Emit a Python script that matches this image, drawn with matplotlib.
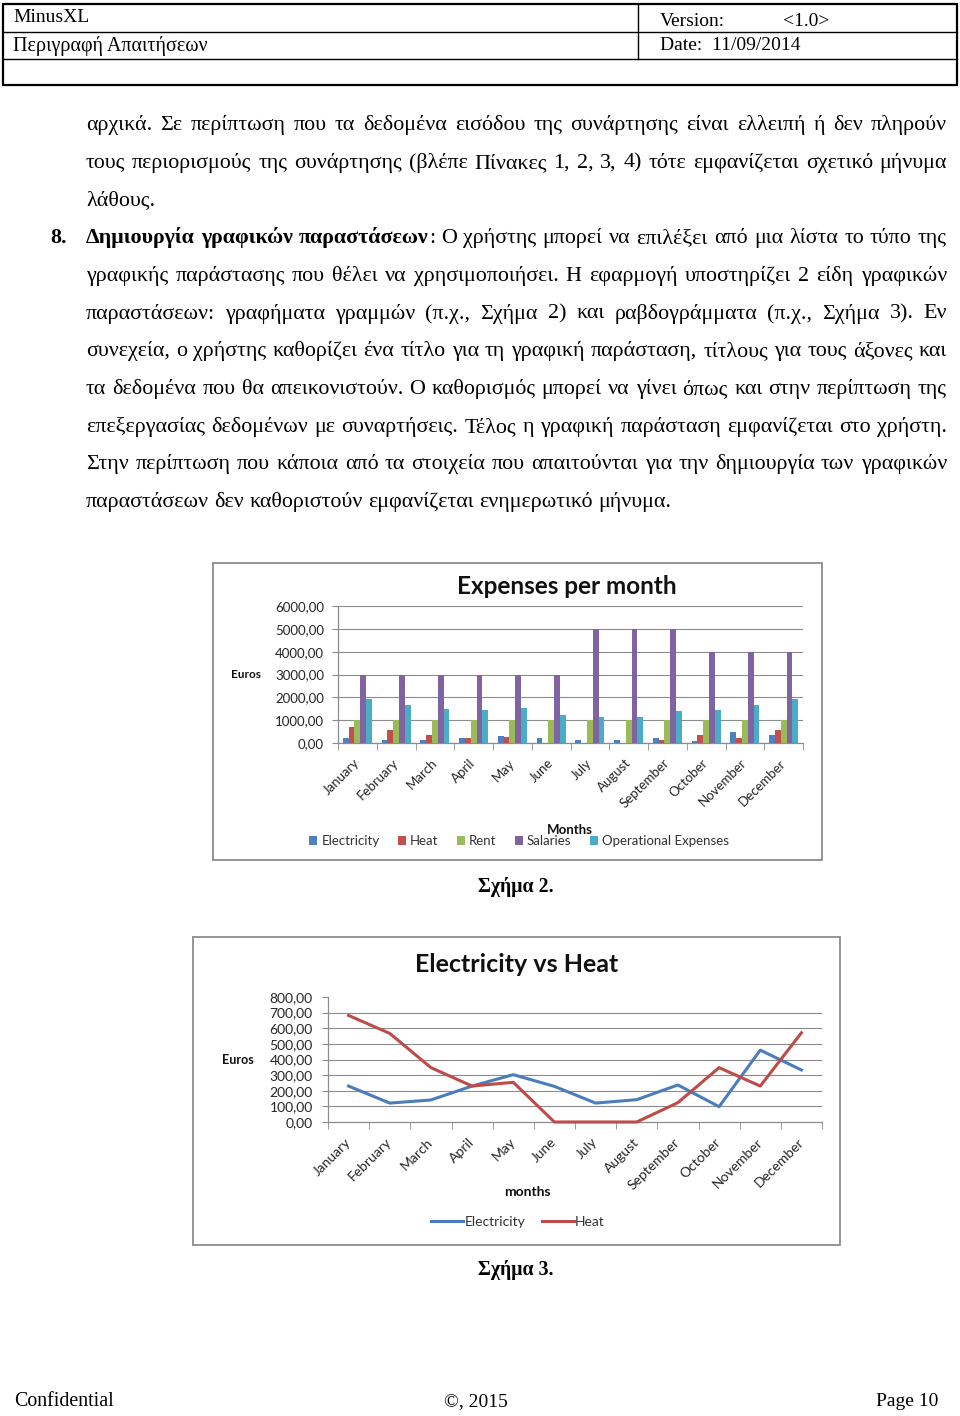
import numpy as np
import matplotlib
matplotlib.use("Agg")
import matplotlib.pyplot as plt
from matplotlib.patches import Rectangle, Patch
from matplotlib.lines import Line2D

# ---------- Data ----------
months = ["January", "February", "March", "April", "May", "June",
          "July", "August", "September", "October", "November", "December"]
electricity = [230, 121, 141, 230, 303, 228, 121, 143, 237, 98, 460, 333]
heat = [682, 567, 348, 230, 254, 0, 0, 0, 124, 348, 230, 571]
rent = [1000, 1000, 1000, 1000, 1000, 1000, 1000, 1000, 1000, 1000, 1000, 1000]
salaries = [3000, 3000, 3000, 3000, 3000, 3000, 5000, 5000, 5000, 4000, 4000, 4000]
operational = [1942, 1664, 1474, 1460, 1547, 1226, 1139, 1139, 1401, 1460, 1679, 1912]

bar_ticks = [0, 1000, 2000, 3000, 4000, 5000, 6000]
line_ticks = [0, 100, 200, 300, 400, 500, 600, 700, 800]

bar_series = ["Electricity", "Heat", "Rent", "Salaries", "Operational Expenses"]
bar_colors = ["#4F81BD", "#C0504D", "#9BBB59", "#8064A2", "#4BACC6"]
line_colors = ["#4A7EBB", "#BE4B48"]

body = [
    ([("αρχικά. Σε περίπτωση που τα δεδομένα εισόδου της συνάρτησης είναι ελλειπή ή δεν πληρούν", "normal")], True),
    ([("τους περιορισμούς της συνάρτησης (βλέπε Πίνακες 1, 2, 3, 4) τότε εμφανίζεται σχετικό μήνυμα", "normal")], True),
    ([("λάθους.", "normal")], False),
    ([("Δημιουργία γραφικών παραστάσεων", "bold"), (": Ο χρήστης μπορεί να επιλέξει από μια λίστα το τύπο της", "normal")], True),
    ([("γραφικής παράστασης που θέλει να χρησιμοποιήσει. Η εφαρμογή υποστηρίζει 2 είδη γραφικών", "normal")], True),
    ([("παραστάσεων: γραφήματα γραμμών (π.χ., Σχήμα 2) και ραβδογράμματα (π.χ., Σχήμα 3). Εν", "normal")], True),
    ([("συνεχεία, ο χρήστης καθορίζει ένα τίτλο για τη γραφική παράσταση, τίτλους για τους άξονες και", "normal")], True),
    ([("τα δεδομένα που θα απεικονιστούν. Ο καθορισμός μπορεί να γίνει όπως και στην περίπτωση της", "normal")], True),
    ([("επεξεργασίας δεδομένων με συναρτήσεις. Τέλος η γραφική παράσταση εμφανίζεται στο χρήστη.", "normal")], True),
    ([("Στην περίπτωση που κάποια από τα στοιχεία που απαιτούνται για την δημιουργία των γραφικών", "normal")], True),
    ([("παραστάσεων δεν καθοριστούν εμφανίζεται ενημερωτικό μήνυμα.", "normal")], False),
]

# ---------- Page ----------
W, H = 960, 1416
SERIF = "Liberation Serif"
plt.rcParams["font.family"] = ["Lato", "DejaVu Sans"]

fig = plt.figure(figsize=(W / 100, H / 100), dpi=100)
renderer = fig.canvas.get_renderer()

bg = fig.add_axes([0, 0, 1, 1])
bg.set_xlim(0, W)
bg.set_ylim(H, 0)
bg.axis("off")


def ax_rect(x0, y0, x1, y1):
    return [x0 / W, 1 - y1 / H, (x1 - x0) / W, (y1 - y0) / H]


def measure(s, wt, size):
    t = bg.text(0, 0, s, fontsize=size, family=SERIF, weight=wt)
    w = t.get_window_extent(renderer).width
    t.remove()
    return w


def tokenize(segs):
    words = [[]]
    for txt, wt in segs:
        for i, p in enumerate(txt.split(" ")):
            if i > 0:
                words.append([])
            if p:
                words[-1].append((p, wt))
    return [w for w in words if w]


def draw_line(segs, x0, x1, yb, size, justify):
    words = tokenize(segs)
    widths = [sum(measure(p, wt, size) for p, wt in w) for w in words]
    space = measure("a a", "normal", size) - measure("aa", "normal", size)
    gap = (x1 - x0 - sum(widths)) / (len(words) - 1) if justify and len(words) > 1 else space
    x = x0
    for w, wd in zip(words, widths):
        xx = x
        for p, wt in w:
            bg.text(xx, yb, p, fontsize=size, family=SERIF, weight=wt, va="baseline", color="black")
            xx += measure(p, wt, size)
        x += wd + gap


# header table
bg.add_patch(Rectangle((3, 4), 954, 81, fill=False, ec="black", lw=1.6))
bg.plot([3, 957], [31.5, 31.5], color="black", lw=1.0)
bg.plot([3, 957], [58.5, 58.5], color="black", lw=1.0)
bg.plot([638, 638], [4, 58.5], color="black", lw=1.0)
hsize = 14
bg.text(13, 17, "MinusXL", family=SERIF, fontsize=hsize, va="center")
bg.text(13, 46, "Περιγραφή Απαιτήσεων", family=SERIF, fontsize=hsize + 0.5, va="center")
bg.text(660, 21, "Version:", family=SERIF, fontsize=hsize, va="center")
bg.text(783, 21, "<1.0>", family=SERIF, fontsize=hsize, va="center")
bg.text(660, 46, "Date:  11/09/2014", family=SERIF, fontsize=hsize, va="center")

# body text, size fitted to the last (ragged) line
w10 = measure(body[-1][0][0][0], "normal", 10)
bsize = 10 * 583 / w10
for i, (segs, just) in enumerate(body):
    yb = 130 + i * 37.7
    draw_line(segs, 86, 947, yb, bsize, just)
    if i == 3:
        bg.text(50, yb, "8.", fontsize=bsize, family=SERIF, weight="bold", va="baseline")

# ---------- Chart 1: bars ----------
bg.add_patch(Rectangle((213, 563), 609, 297, fill=False, ec="#8c8c8c", lw=1.3))
ax1 = fig.add_axes(ax_rect(338, 606, 803, 743))
x = np.arange(len(months))
bw = 0.15
for i, vals in enumerate([electricity, heat, rent, salaries, operational]):
    ax1.bar(x + (i - 2) * bw, vals, bw, color=bar_colors[i], zorder=3)
ax1.set_xlim(-0.5, len(months) - 0.5)
ax1.set_ylim(0, bar_ticks[-1])
ax1.set_yticks(bar_ticks)
ax1.set_yticklabels([f"{v},00" for v in bar_ticks])
ax1.yaxis.grid(True, color="#8c8c8c", lw=0.8)
ax1.set_axisbelow(True)
ax1.set_xticks(x)
ax1.set_xticklabels(months, rotation=45, ha="right", va="center", rotation_mode="anchor")
ax1.set_xticks(np.arange(-0.5, len(months)), minor=True)

ax2 = fig.add_axes(ax_rect(328, 997, 822, 1122))
ax2.plot(x, electricity, color=line_colors[0], lw=2.2, clip_on=False, zorder=3)
ax2.plot(x, heat, color=line_colors[1], lw=2.2, clip_on=False, zorder=3)
ax2.set_xlim(-0.5, len(months) - 0.5)
ax2.set_ylim(0, line_ticks[-1])
ax2.set_yticks(line_ticks)
ax2.set_yticklabels([f"{v},00" for v in line_ticks])
ax2.hlines(line_ticks[1:-1], -0.5, len(months) - 0.5, color="#8c8c8c", lw=0.8, zorder=1)
ax2.set_xticks(x)
ax2.set_xticklabels(months, rotation=45, ha="right", va="center", rotation_mode="anchor")
ax2.set_xticks(np.arange(-0.5, len(months)), minor=True)

for ax, fs, ypad in [(ax1, 9.5, 6), (ax2, 10, 7)]:
    for s in ["top", "right"]:
        ax.spines[s].set_visible(False)
    for s in ["left", "bottom"]:
        ax.spines[s].set_color("#8c8c8c")
        ax.spines[s].set_linewidth(0.9)
    ax.tick_params(axis="y", length=4, color="#8c8c8c", labelsize=fs, labelcolor="#262626", pad=ypad)
    ax.tick_params(axis="x", which="major", length=0, labelsize=fs, labelcolor="#262626", pad=13)
    ax.tick_params(axis="x", which="minor", length=5, color="#8c8c8c")

bg.text(567, 587, "Expenses per month", fontsize=17.5, weight="bold", ha="center", va="center", color="#111")
bg.text(246, 675, "Euros", fontsize=8.5, weight="bold", ha="center", va="center", color="#111")
bg.text(570, 830, "Months", fontsize=9.5, weight="bold", ha="center", va="center", color="#111")
fig.legend(handles=[Patch(facecolor=c, label=l) for c, l in zip(bar_colors, bar_series)],
           loc="center", bbox_to_anchor=(519 / W, 1 - 841 / H), ncol=5, frameon=False,
           fontsize=9.5, handlelength=0.6, handleheight=0.6, handletextpad=0.3,
           columnspacing=1.4, borderaxespad=0, labelcolor="#333")
bg.text(516, 887, "Σχήμα 2.", family=SERIF, fontsize=bsize * 0.9, weight="bold", ha="center", va="center")

# ---------- Chart 2: lines ----------
bg.add_patch(Rectangle((193, 937), 647, 308, fill=False, ec="#8c8c8c", lw=1.3))
bg.text(517, 964, "Electricity vs Heat", fontsize=18, weight="bold", ha="center", va="center", color="#111")
bg.text(238, 1060, "Euros", fontsize=9, weight="bold", ha="center", va="center", color="#111")
bg.text(527, 1192, "months", fontsize=10, weight="bold", ha="center", va="center", color="#111")
fig.legend(handles=[Line2D([], [], color=line_colors[0], lw=2.2, label="Electricity"),
                    Line2D([], [], color=line_colors[1], lw=2.2, label="Heat")],
           loc="center", bbox_to_anchor=(518 / W, 1 - 1222 / H), ncol=2, frameon=False,
           fontsize=10, handlelength=2.3, handletextpad=0.1, columnspacing=1.2,
           borderaxespad=0, labelcolor="#333")
bg.text(516, 1270, "Σχήμα 3.", family=SERIF, fontsize=bsize * 0.9, weight="bold", ha="center", va="center")

# footer
bg.text(14, 1402, "Confidential", family=SERIF, fontsize=14.3, va="center")
bg.text(476, 1402, "©, 2015", family=SERIF, fontsize=14, va="center", ha="center")
bg.text(938, 1402, "Page 10", family=SERIF, fontsize=14, va="center", ha="right")

fig.savefig("out.png", dpi=100)
